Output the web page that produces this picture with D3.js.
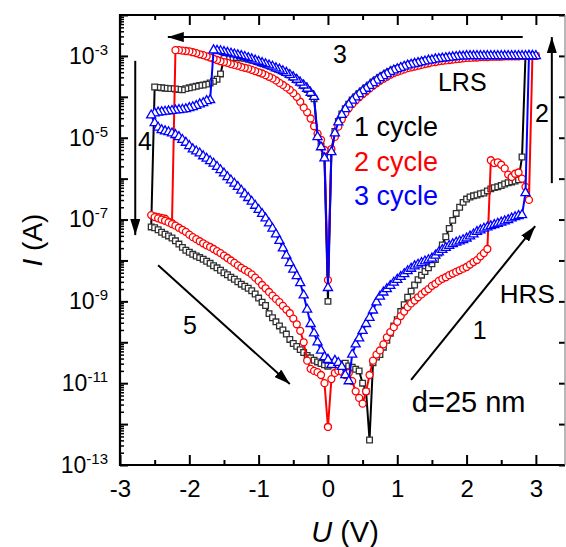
<!DOCTYPE html>
<html><head><meta charset="utf-8">
<script src="https://cdn.jsdelivr.net/npm/d3@7"></script>
<style>html,body{margin:0;padding:0;background:#fff;} svg{display:block;}</style>
</head><body>
<svg id="chart" width="566" height="547"></svg>
<script>
// ---------- DATA ----------
// sweep voltages (V) for the four branches of every cycle
const vUp = [0,0.05,0.1,0.15,0.2,0.25,0.3,0.35,0.4,0.45,0.5,0.55,0.6,0.65,0.7,0.75,0.8,0.85,0.9,0.95,1,1.05,1.1,1.15,1.2,1.25,1.3,1.35,1.4,1.45,1.5,1.55,1.6,1.65,1.7,1.75,1.8,1.85,1.9,1.95,2,2.05,2.1,2.15,2.2,2.25,2.3,2.35,2.4,2.45,2.5,2.55,2.6,2.65,2.7,2.75,2.8,2.85,2.9,2.95,3];
const vDownPos = [2.95,2.9,2.85,2.8,2.75,2.7,2.65,2.6,2.55,2.5,2.45,2.4,2.35,2.3,2.25,2.2,2.15,2.1,2.05,2,1.95,1.9,1.85,1.8,1.75,1.7,1.65,1.6,1.55,1.5,1.45,1.4,1.35,1.3,1.25,1.2,1.15,1.1,1.05,1,0.95,0.9,0.85,0.8,0.75,0.7,0.65,0.6,0.55,0.5,0.45,0.4,0.35,0.3,0.25,0.2,0.15,0.1,0.05,0];
const vDownNeg = [-0.05,-0.1,-0.15,-0.2,-0.25,-0.3,-0.35,-0.4,-0.45,-0.5,-0.55,-0.6,-0.65,-0.7,-0.75,-0.8,-0.85,-0.9,-0.95,-1,-1.05,-1.1,-1.15,-1.2,-1.25,-1.3,-1.35,-1.4,-1.45,-1.5,-1.55,-1.6,-1.65,-1.7,-1.75,-1.8,-1.85,-1.9,-1.95,-2,-2.05,-2.1,-2.15,-2.2,-2.25,-2.3,-2.35,-2.4,-2.45,-2.5,-2.55];
const vBack = [-2.5,-2.45,-2.4,-2.35,-2.3,-2.25,-2.2,-2.15,-2.1,-2.05,-2,-1.95,-1.9,-1.85,-1.8,-1.75,-1.7,-1.65,-1.6,-1.55,-1.5,-1.45,-1.4,-1.35,-1.3,-1.25,-1.2,-1.15,-1.1,-1.05,-1,-0.95,-0.9,-0.85,-0.8,-0.75,-0.7,-0.65,-0.6,-0.55,-0.5,-0.45,-0.4,-0.35,-0.3,-0.25,-0.2,-0.15,-0.1,-0.05,0];

// log10(I / A), per cycle and branch
const c1Up = [-10.58,-10.52,-10.55,-10.56,-10.53,-10.51,-10.58,-10.61,-10.66,-10.7,-11.0,-11.2,-12.39,-10.5,-10.36,-10.3,-10.12,-9.95,-9.78,-9.6,-9.45,-9.25,-9.08,-8.9,-8.75,-8.6,-8.47,-8.36,-8.27,-8.18,-8.08,-7.98,-7.82,-7.62,-7.42,-7.22,-7.02,-6.85,-6.7,-6.58,-6.5,-6.45,-6.42,-6.4,-6.37,-6.35,-6.3,-6.25,-6.22,-6.2,-6.17,-6.13,-6.1,-6.08,-6.06,-6.03,-5.47,-3.0,-3.0,-3.0,-3.0];
const c1DownPos = [-3.0,-3.0,-3.0,-3.0,-3.0,-3.0,-3.0,-3.0,-3.0,-3.0,-3.0,-3.0,-3.0,-3.0,-3.0,-3.0,-3.0,-3.0,-3.0,-3.0,-3.0,-3.01,-3.01,-3.02,-3.03,-3.04,-3.05,-3.06,-3.08,-3.09,-3.11,-3.12,-3.14,-3.16,-3.18,-3.2,-3.23,-3.25,-3.28,-3.31,-3.34,-3.38,-3.42,-3.47,-3.52,-3.58,-3.64,-3.71,-3.78,-3.85,-3.92,-4.0,-4.08,-4.18,-4.29,-4.42,-4.6,-4.85,-5.3,-9.0];
const c1DownNeg = [-5.45,-5.2,-4.95,-4.05,-3.92,-3.82,-3.73,-3.66,-3.59,-3.53,-3.47,-3.42,-3.38,-3.34,-3.31,-3.27,-3.24,-3.21,-3.18,-3.15,-3.12,-3.1,-3.08,-3.06,-3.05,-3.04,-3.04,-3.04,-3.05,-3.06,-3.44,-3.57,-3.62,-3.66,-3.69,-3.71,-3.72,-3.74,-3.76,-3.78,-3.8,-3.83,-3.82,-3.81,-3.8,-3.8,-3.79,-3.78,-3.77,-3.76,-7.18];
const c1Back = [-7.2,-7.25,-7.31,-7.36,-7.4,-7.45,-7.52,-7.6,-7.68,-7.75,-7.8,-7.85,-7.89,-7.93,-7.97,-8.02,-8.07,-8.13,-8.18,-8.24,-8.3,-8.35,-8.41,-8.46,-8.52,-8.58,-8.63,-8.68,-8.74,-8.82,-8.92,-9.02,-9.1,-9.3,-9.4,-9.5,-9.6,-9.7,-9.8,-9.93,-10.03,-10.1,-10.18,-10.25,-10.32,-10.38,-10.44,-10.48,-10.52,-10.55,-10.58];

const c2Up = [-12.07,-10.9,-10.75,-10.7,-10.72,-10.8,-10.75,-10.95,-11.2,-11.36,-11.5,-11.2,-10.8,-10.45,-10.3,-10.2,-10.05,-9.88,-9.75,-9.63,-9.5,-9.36,-9.25,-9.14,-9.05,-8.98,-8.9,-8.83,-8.76,-8.7,-8.62,-8.57,-8.5,-8.45,-8.41,-8.36,-8.32,-8.28,-8.24,-8.2,-8.16,-8.1,-8.04,-7.99,-7.9,-7.82,-7.72,-5.55,-5.62,-5.6,-5.66,-5.75,-5.9,-5.96,-5.88,-5.85,-6.0,-6.2,-6.52,-3.0,-3.0];
const c2DownPos = [-3.0,-3.0,-3.0,-3.0,-3.01,-3.01,-3.01,-3.01,-3.01,-3.02,-3.02,-3.02,-3.02,-3.03,-3.03,-3.03,-3.04,-3.04,-3.05,-3.05,-3.06,-3.07,-3.08,-3.09,-3.1,-3.11,-3.12,-3.13,-3.15,-3.16,-3.18,-3.2,-3.22,-3.24,-3.26,-3.28,-3.3,-3.33,-3.36,-3.39,-3.42,-3.46,-3.51,-3.56,-3.61,-3.67,-3.73,-3.8,-3.87,-3.94,-4.01,-4.09,-4.18,-4.28,-4.4,-4.55,-4.73,-4.98,-5.28,-8.48];
const c2DownNeg = [-5.3,-5.05,-4.9,-4.72,-4.53,-4.38,-4.26,-4.12,-4.0,-3.91,-3.83,-3.77,-3.71,-3.66,-3.6,-3.55,-3.51,-3.47,-3.43,-3.4,-3.37,-3.34,-3.31,-3.29,-3.27,-3.24,-3.22,-3.2,-3.17,-3.15,-3.13,-3.1,-3.07,-3.04,-3.01,-2.98,-2.96,-2.93,-2.91,-2.89,-2.88,-2.87,-2.86,-2.86,-7.09,-7.05,-6.98,-6.96,-6.94,-6.92,-6.89];
const c2Back = [-6.94,-6.97,-7.0,-7.03,-7.07,-7.11,-7.15,-7.2,-7.25,-7.3,-7.37,-7.43,-7.48,-7.53,-7.58,-7.63,-7.67,-7.72,-7.77,-7.82,-7.88,-7.94,-8.0,-8.06,-8.12,-8.18,-8.23,-8.28,-8.34,-8.42,-8.5,-8.6,-8.68,-8.77,-8.86,-8.94,-9.02,-9.11,-9.2,-9.29,-9.42,-9.56,-9.72,-10.0,-10.45,-10.65,-10.7,-10.73,-10.8,-11.0,-12.07];

const c3Up = [-10.43,-10.55,-10.45,-10.5,-10.6,-10.8,-10.95,-10.3,-10.05,-9.9,-9.72,-9.55,-9.4,-9.22,-9.02,-8.88,-8.78,-8.7,-8.62,-8.54,-8.47,-8.4,-8.33,-8.26,-8.2,-8.14,-8.1,-8.06,-8.02,-7.99,-7.95,-7.88,-7.8,-7.74,-7.69,-7.64,-7.6,-7.56,-7.53,-7.5,-7.46,-7.41,-7.36,-7.3,-7.26,-7.22,-7.19,-7.16,-7.13,-7.1,-7.07,-7.04,-7.01,-6.97,-6.94,-6.91,-6.89,-6.35,-3.0,-3.0,-3.0];
const c3DownPos = [-3.0,-3.0,-3.0,-3.0,-3.0,-3.0,-3.0,-3.0,-3.0,-3.0,-3.0,-3.0,-3.0,-3.0,-3.0,-3.0,-3.0,-3.0,-3.0,-3.0,-3.01,-3.01,-3.02,-3.03,-3.04,-3.05,-3.06,-3.07,-3.08,-3.1,-3.11,-3.13,-3.15,-3.17,-3.19,-3.21,-3.23,-3.26,-3.29,-3.32,-3.35,-3.39,-3.44,-3.49,-3.54,-3.6,-3.66,-3.73,-3.8,-3.86,-3.93,-4.01,-4.09,-4.19,-4.3,-4.44,-4.62,-4.89,-5.35,-8.67];
const c3DownNeg = [-5.5,-5.23,-4.98,-4.0,-3.9,-3.8,-3.72,-3.65,-3.58,-3.52,-3.46,-3.41,-3.37,-3.33,-3.3,-3.26,-3.23,-3.2,-3.17,-3.14,-3.11,-3.08,-3.05,-3.02,-3.0,-2.98,-2.96,-2.94,-2.92,-2.9,-2.88,-2.87,-2.86,-4.08,-4.1,-4.15,-4.18,-4.22,-4.25,-4.27,-4.3,-4.31,-4.32,-4.33,-4.34,-4.35,-4.36,-4.37,-4.38,-4.4,-4.45];
const c3Back = [-4.64,-4.75,-4.81,-4.84,-4.86,-4.89,-4.93,-4.98,-5.05,-5.12,-5.2,-5.28,-5.33,-5.38,-5.45,-5.51,-5.57,-5.63,-5.71,-5.79,-5.87,-5.96,-6.04,-6.12,-6.2,-6.29,-6.38,-6.47,-6.56,-6.66,-6.76,-6.86,-6.97,-7.09,-7.22,-7.36,-7.52,-7.7,-7.88,-8.06,-8.22,-8.38,-8.55,-8.85,-9.2,-9.55,-9.78,-10.0,-10.2,-10.36,-10.43];

const seriesNames = ["1 cycle", "2 cycle", "3 cycle"];
const xTickValues = [-3,-2,-1,0,1,2,3];
const yLabelExponents = [-13,-11,-9,-7,-5,-3];

// ---------- LAYOUT ----------
const W = 566, H = 547;
const plot = {left:120, right:565, top:15, bottom:465};
const FONT = '"Liberation Sans", Arial, Helvetica, sans-serif';
const colors = ["#000000", "#ff0000", "#0000ff"];
const markerStroke = ["#303030", "#ff0000", "#0000ff"];
const symbols = [d3.symbolSquare, d3.symbolCircle, d3.symbolTriangle];
const symSizes = [32, 38, 36];

const x = d3.scaleLinear().domain([-3, 3.42]).range([plot.left, plot.right]);
const y = d3.scaleLog().domain([1e-13, 1e-2]).range([plot.bottom, plot.top]);
const L = e => Math.pow(10, e);

const svg = d3.select('#chart');
svg.append('rect').attr('width', W).attr('height', H).attr('fill', '#fff');

function build(segs) {
  const volts = [vUp, vDownPos, vDownNeg, vBack];
  const pts = [];
  volts.forEach((vs, k) => {
    if (vs.length !== segs[k].length) console.error('length mismatch', k, vs.length, segs[k].length);
    vs.forEach((v, j) => { if (segs[k][j] !== undefined) pts.push({v: v, i: L(segs[k][j])}); });
  });
  return pts;
}
const cycles = [
  build([c1Up, c1DownPos, c1DownNeg, c1Back]),
  build([c2Up, c2DownPos, c2DownNeg, c2Back]),
  build([c3Up, c3DownPos, c3DownNeg, c3Back])
];

// ---------- AXES ----------
const majorDecades = [-13,-12,-11,-10,-9,-8,-7,-6,-5,-4,-3,-2].map(L);
const minorVals = [];
[-13,-12,-11,-10,-9,-8,-7,-6,-5,-4,-3].forEach(e => { [2,3,4,5,6,7,8,9].forEach(m => minorVals.push(m * L(e))); });

function styleAxis(g, w) {
  g.select('.domain').remove();
  g.selectAll('.tick line').attr('stroke', '#000').attr('stroke-width', w);
}

svg.append('g').attr('transform', `translate(${plot.left},0)`)
  .call(d3.axisLeft(y).tickValues(minorVals).tickSizeInner(-4).tickSizeOuter(0).tickFormat(''))
  .call(g => styleAxis(g, 1.5));
const gL = svg.append('g').attr('transform', `translate(${plot.left},0)`)
  .call(d3.axisLeft(y).tickValues(majorDecades).tickSizeInner(-8).tickSizeOuter(0).tickPadding(12).tickFormat(() => 'x'))
  .call(g => styleAxis(g, 2));
gL.selectAll('.tick text').each(function(d) {
  const e = Math.round(Math.log10(d));
  const t = d3.select(this);
  t.text('').attr('font-family', FONT).attr('font-size', 23).attr('fill', '#000');
  if (yLabelExponents.includes(e)) {
    t.append('tspan').text('10');
    t.append('tspan').attr('dy', -9).attr('font-size', 15).text(String(e));
  }
});
svg.append('g').attr('transform', `translate(${plot.right},0)`)
  .call(d3.axisRight(y).tickValues(majorDecades).tickSizeInner(-6).tickSizeOuter(0).tickFormat(''))
  .call(g => styleAxis(g, 2));
const xMinor = [-2.5,-1.5,-0.5,0.5,1.5,2.5];
svg.append('g').attr('transform', `translate(0,${plot.bottom})`)
  .call(d3.axisBottom(x).tickValues(xMinor).tickSizeInner(-5).tickSizeOuter(0).tickFormat(''))
  .call(g => styleAxis(g, 2));
const gB = svg.append('g').attr('transform', `translate(0,${plot.bottom})`)
  .call(d3.axisBottom(x).tickValues(xTickValues).tickSizeInner(-10).tickSizeOuter(0).tickPadding(15)
    .tickFormat(d => (d < 0 ? '-' : '') + Math.abs(d)))
  .call(g => styleAxis(g, 2));
gB.selectAll('.tick text').attr('font-family', FONT).attr('font-size', 24).attr('fill', '#000');
svg.append('g').attr('transform', `translate(0,${plot.top})`)
  .call(d3.axisTop(x).tickValues(xMinor).tickSizeInner(-5).tickSizeOuter(0).tickFormat(''))
  .call(g => styleAxis(g, 2));
svg.append('g').attr('transform', `translate(0,${plot.top})`)
  .call(d3.axisTop(x).tickValues(xTickValues).tickSizeInner(-10).tickSizeOuter(0).tickFormat(''))
  .call(g => styleAxis(g, 2));

// frame (right edge of the original is cut at the picture border, drawn lighter)
svg.append('path')
  .attr('d', `M${plot.right},${plot.top} H${plot.left} V${plot.bottom} H${plot.right}`)
  .attr('fill', 'none').attr('stroke', '#000').attr('stroke-width', 2.2);
svg.append('line').attr('x1', plot.right).attr('x2', plot.right).attr('y1', plot.top).attr('y2', plot.bottom)
  .attr('stroke', '#888').attr('stroke-width', 1.2);

const xt = svg.append('text').attr('x', 345).attr('y', 542).attr('text-anchor', 'middle')
  .attr('font-family', FONT).attr('font-size', 29).attr('fill', '#000');
xt.append('tspan').attr('font-style', 'italic').text('U');
xt.append('tspan').text(' (V)');
const yt = svg.append('text').attr('transform', `translate(42,${(plot.top + plot.bottom) / 2}) rotate(-90)`)
  .attr('text-anchor', 'middle').attr('font-family', FONT).attr('font-size', 28).attr('fill', '#000');
yt.append('tspan').attr('font-style', 'italic').text('I');
yt.append('tspan').text(' (A)');

// ---------- DATA MARKS ----------
svg.append('clipPath').attr('id', 'plotclip').append('rect')
  .attr('x', plot.left).attr('y', plot.top).attr('width', plot.right - plot.left).attr('height', plot.bottom - plot.top);
const gData = svg.append('g').attr('clip-path', 'url(#plotclip)');
const line = d3.line().x(d => x(d.v)).y(d => y(d.i));
cycles.forEach((pts, k) => {
  const g = gData.append('g');
  g.append('path').datum(pts).attr('d', line).attr('fill', 'none')
    .attr('stroke', colors[k]).attr('stroke-width', 2).attr('stroke-linejoin', 'round');
  g.selectAll('path.m').data(pts).join('path').attr('class', 'm')
    .attr('transform', d => `translate(${x(d.v)},${y(d.i)})`)
    .attr('d', d3.symbol().type(symbols[k]).size(symSizes[k]))
    .attr('fill', '#fff').attr('stroke', markerStroke[k]).attr('stroke-width', 1.3);
});

// ---------- ANNOTATIONS ----------
const defs = svg.append('defs');
defs.append('marker').attr('id', 'ah').attr('viewBox', '0 0 16 10').attr('refX', 16).attr('refY', 5)
  .attr('markerWidth', 16).attr('markerHeight', 10).attr('markerUnits', 'userSpaceOnUse').attr('orient', 'auto')
  .append('path').attr('d', 'M0,0 L16,5 L0,10 Z').attr('fill', '#000');
const arrows = [
  {from: [2.81, -2.54], to: [-2.31, -2.54]},
  {from: [3.23, -6.11], to: [3.23, -2.54]},
  {from: [-2.78, -3.12], to: [-2.78, -7.38]},
  {from: [-2.45, -8.12], to: [-0.55, -11.02]},
  {from: [1.2, -10.92], to: [2.99, -7.16]}
];
arrows.forEach(a => {
  svg.append('line').attr('x1', x(a.from[0])).attr('y1', y(L(a.from[1])))
    .attr('x2', x(a.to[0])).attr('y2', y(L(a.to[1])))
    .attr('stroke', '#000').attr('stroke-width', 2).attr('marker-end', 'url(#ah)');
});
const labels = [
  {t: '3', v: 0.174, e: -3.17, a: 'middle', s: 25},
  {t: '2', v: 3.088, e: -4.62, a: 'middle', s: 25},
  {t: '4', v: -2.64, e: -5.30, a: 'middle', s: 25},
  {t: '5', v: -1.99, e: -9.80, a: 'middle', s: 25},
  {t: '1', v: 2.19, e: -9.92, a: 'middle', s: 25},
  {t: 'LRS', v: 1.587, e: -3.86, a: 'start', s: 25},
  {t: 'HRS', v: 2.48, e: -9.04, a: 'start', s: 26},
  {t: 'd=25 nm', v: 1.21, e: -11.71, a: 'start', s: 29}
];
labels.forEach(l => {
  svg.append('text').attr('x', x(l.v)).attr('y', y(L(l.e))).attr('text-anchor', l.a)
    .attr('font-family', FONT).attr('font-size', l.s).attr('fill', '#000').text(l.t);
});
const legendPos = [[0.375, -4.96], [0.375, -5.81], [0.375, -6.65]];
seriesNames.forEach((n, k) => {
  svg.append('text').attr('x', x(legendPos[k][0])).attr('y', y(L(legendPos[k][1])))
    .attr('font-family', FONT).attr('font-size', 27).attr('fill', colors[k]).text(n);
});
</script>
</body></html>
